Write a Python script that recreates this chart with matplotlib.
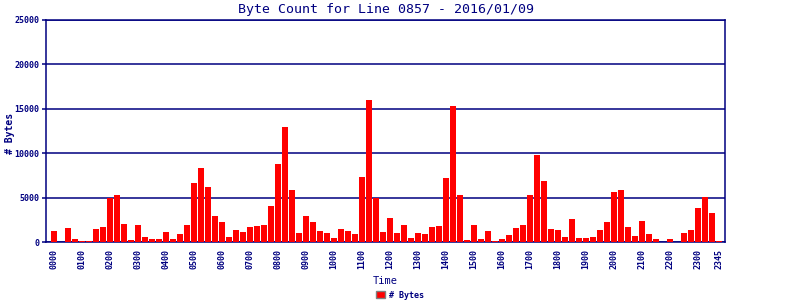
import matplotlib
matplotlib.use("Agg")
import matplotlib.pyplot as plt
from matplotlib.patches import Patch

times = [f"{h:02d}{m:02d}" for h in range(24) for m in (0, 15, 30, 45)]
byte_counts = [
    1250, 0, 1590, 340, 110, 110, 1480, 1700, 5000, 5340, 2045, 230,
    1930, 570, 340, 340, 1140, 340, 910, 1930, 6700, 8300, 6140, 2950,
    2270, 570, 1360, 1140, 1700, 1820, 1930, 4090, 8750, 12950, 5800, 1020,
    2950, 2270, 1250, 1020, 450, 1480, 1250, 910, 7270, 16020, 5000, 1140,
    2730, 1020, 1930, 450, 1020, 910, 1700, 1820, 7160, 15340, 5340, 230,
    1930, 340, 1250, 110, 340, 800, 1590, 1930, 5340, 9770, 6820, 1480,
    1360, 570, 2610, 450, 450, 570, 1360, 2270, 5680, 5800, 1700, 680,
    2390, 910, 340, 0, 340, 0, 1020, 1360, 3860, 5110, 3300, 110,
]
y_ticks = [0, 5000, 10000, 15000, 20000, 25000]
title = "Byte Count for Line 0857 - 2016/01/09"
series_name = "# Bytes"

NAVY = "#000080"
RED = "#ff0000"
MONO = "DejaVu Sans Mono"

fig = plt.figure(figsize=(8, 3), dpi=100)
ax = fig.add_axes([46 / 800, 1 - 242 / 300, (725 - 46) / 800, (242 - 20) / 300])

x = list(range(len(times)))
ax.bar(x, byte_counts, width=0.86, color=RED, zorder=3)

ax.set_xlim(-1.15, len(times) - 1 + 0.86)
ax.set_ylim(0, 25000)
ax.set_yticks(y_ticks)
ax.set_yticklabels([str(v) for v in y_ticks], fontfamily=MONO, fontsize=6,
                   fontweight="bold", color=NAVY)
ax.yaxis.grid(True, color=NAVY, linewidth=1.1, zorder=1)

tick_idx = list(range(0, len(times), 4)) + [len(times) - 1]
ax.set_xticks(tick_idx)
ax.set_xticklabels([times[i] for i in tick_idx], rotation=90, fontfamily=MONO,
                   fontsize=6, fontweight="bold", color=NAVY)
ax.tick_params(axis="x", length=0, pad=5)
ax.tick_params(axis="y", length=3, width=1.1, color=NAVY, pad=2)

for s in ax.spines.values():
    s.set_color(NAVY)
    s.set_linewidth(1.1)

ax.set_xlabel("Time", fontfamily=MONO, fontsize=7.5, color=NAVY, labelpad=5)
fig.text(10 / 800, 1 - 133 / 300, series_name, rotation=90, ha="center", va="center",
         fontfamily=MONO, fontsize=7, fontweight="bold", color=NAVY)
fig.text(385.5 / 800, 1 - 9 / 300, title, ha="center", va="center",
         fontfamily=MONO, fontsize=9.5, color=NAVY)

handle = Patch(facecolor=RED, edgecolor="#808080", linewidth=1)
fig.legend([handle], [series_name], loc="center", bbox_to_anchor=(400 / 800, 1 - 295 / 300),
           frameon=False, prop={"family": MONO, "size": 6, "weight": "bold"},
           handlelength=1.1, handleheight=0.8, handletextpad=0.4, labelcolor=NAVY,
           borderpad=0, borderaxespad=0)

fig.savefig("out.png", dpi=100)
